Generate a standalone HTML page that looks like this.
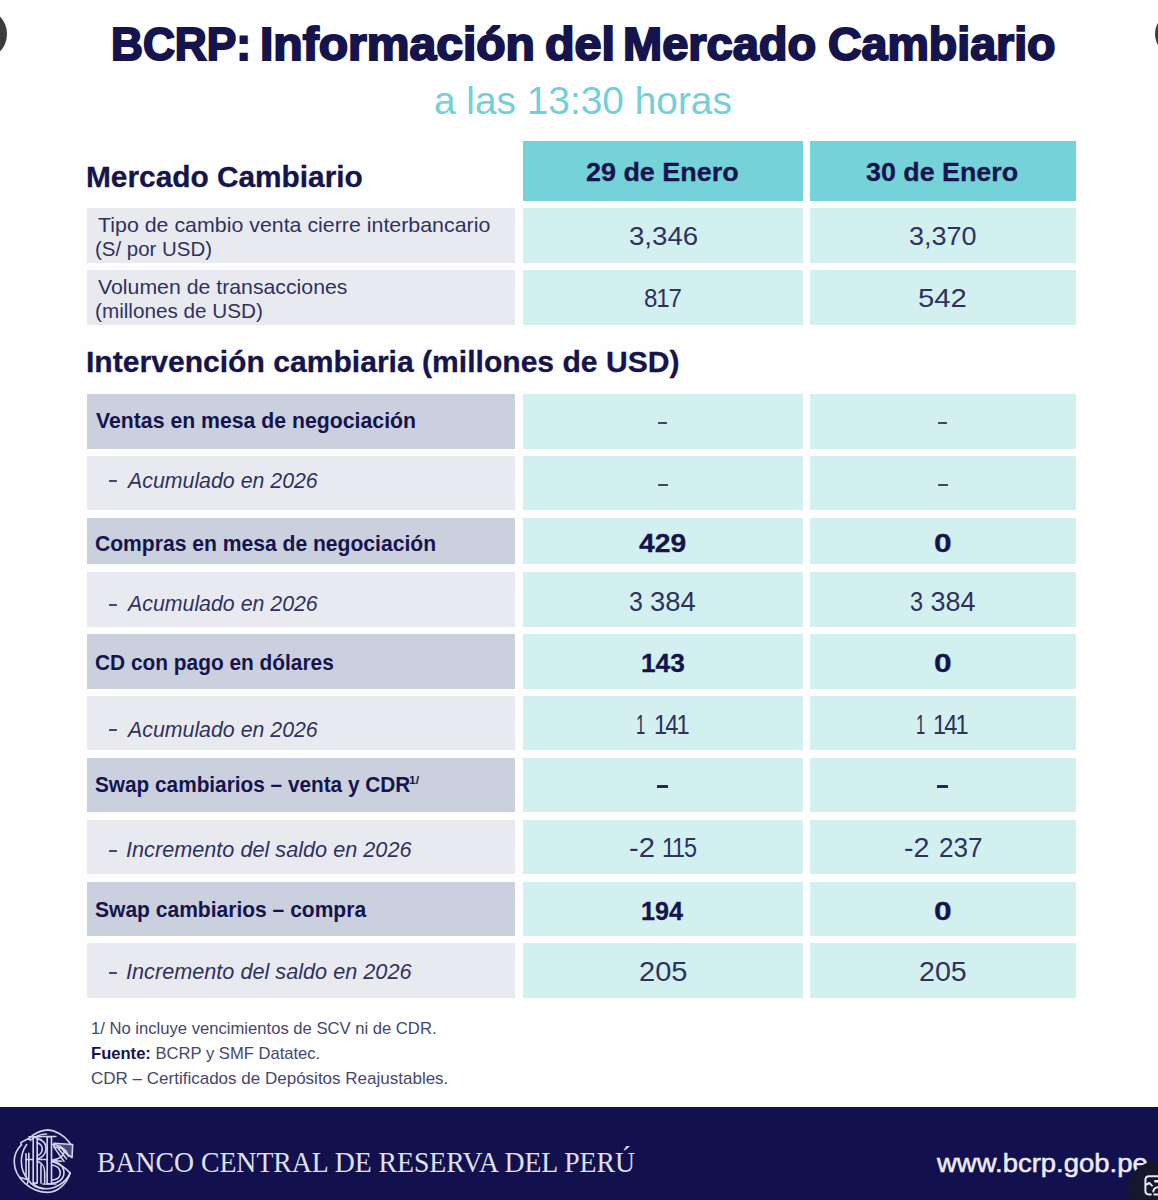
<!DOCTYPE html>
<html lang="es"><head><meta charset="utf-8"><title>BCRP: Información del Mercado Cambiario</title>
<style>html,body{margin:0;padding:0}body{width:1158px;height:1200px;position:relative;overflow:hidden;background:#fefefe;font-family:'Liberation Sans', sans-serif}
#w{position:absolute;left:0;top:0;width:1158px;height:1200px}
.b{position:absolute}.t{position:absolute;white-space:pre;line-height:1;transform-origin:0 0}</style></head><body><div id="w">
<div class="b" style="left:522.5px;top:141px;width:280.5px;height:60.0px;background:#74d2d8"></div>
<div class="b" style="left:810px;top:141px;width:265.5px;height:60.0px;background:#74d2d8"></div>
<div class="b" style="left:87px;top:208.4px;width:428.29999999999995px;height:54.3px;background:#e8eaf0"></div>
<div class="b" style="left:522.5px;top:208.4px;width:280.5px;height:54.3px;background:#d3f0f1"></div>
<div class="b" style="left:810px;top:208.4px;width:265.5px;height:54.3px;background:#d3f0f1"></div>
<div class="b" style="left:87px;top:270.3px;width:428.29999999999995px;height:54.3px;background:#e8eaf0"></div>
<div class="b" style="left:522.5px;top:270.3px;width:280.5px;height:54.3px;background:#d3f0f1"></div>
<div class="b" style="left:810px;top:270.3px;width:265.5px;height:54.3px;background:#d3f0f1"></div>
<div class="b" style="left:87px;top:393.7px;width:428.29999999999995px;height:54.9px;background:#cad0dd"></div>
<div class="b" style="left:522.5px;top:393.7px;width:280.5px;height:54.9px;background:#d3f0f1"></div>
<div class="b" style="left:810px;top:393.7px;width:265.5px;height:54.9px;background:#d3f0f1"></div>
<div class="b" style="left:87px;top:456.2px;width:428.29999999999995px;height:54.2px;background:#e8eaf0"></div>
<div class="b" style="left:522.5px;top:456.2px;width:280.5px;height:54.2px;background:#d3f0f1"></div>
<div class="b" style="left:810px;top:456.2px;width:265.5px;height:54.2px;background:#d3f0f1"></div>
<div class="b" style="left:87px;top:517.7px;width:428.29999999999995px;height:46.8px;background:#cad0dd"></div>
<div class="b" style="left:522.5px;top:517.7px;width:280.5px;height:46.8px;background:#d3f0f1"></div>
<div class="b" style="left:810px;top:517.7px;width:265.5px;height:46.8px;background:#d3f0f1"></div>
<div class="b" style="left:87px;top:572.4px;width:428.29999999999995px;height:54.2px;background:#e8eaf0"></div>
<div class="b" style="left:522.5px;top:572.4px;width:280.5px;height:54.2px;background:#d3f0f1"></div>
<div class="b" style="left:810px;top:572.4px;width:265.5px;height:54.2px;background:#d3f0f1"></div>
<div class="b" style="left:87px;top:634.0px;width:428.29999999999995px;height:54.6px;background:#cad0dd"></div>
<div class="b" style="left:522.5px;top:634.0px;width:280.5px;height:54.6px;background:#d3f0f1"></div>
<div class="b" style="left:810px;top:634.0px;width:265.5px;height:54.6px;background:#d3f0f1"></div>
<div class="b" style="left:87px;top:696.2px;width:428.29999999999995px;height:54.0px;background:#e8eaf0"></div>
<div class="b" style="left:522.5px;top:696.2px;width:280.5px;height:54.0px;background:#d3f0f1"></div>
<div class="b" style="left:810px;top:696.2px;width:265.5px;height:54.0px;background:#d3f0f1"></div>
<div class="b" style="left:87px;top:758.0px;width:428.29999999999995px;height:54.0px;background:#cad0dd"></div>
<div class="b" style="left:522.5px;top:758.0px;width:280.5px;height:54.0px;background:#d3f0f1"></div>
<div class="b" style="left:810px;top:758.0px;width:265.5px;height:54.0px;background:#d3f0f1"></div>
<div class="b" style="left:87px;top:819.5px;width:428.29999999999995px;height:54.5px;background:#e8eaf0"></div>
<div class="b" style="left:522.5px;top:819.5px;width:280.5px;height:54.5px;background:#d3f0f1"></div>
<div class="b" style="left:810px;top:819.5px;width:265.5px;height:54.5px;background:#d3f0f1"></div>
<div class="b" style="left:87px;top:881.8px;width:428.29999999999995px;height:54.2px;background:#cad0dd"></div>
<div class="b" style="left:522.5px;top:881.8px;width:280.5px;height:54.2px;background:#d3f0f1"></div>
<div class="b" style="left:810px;top:881.8px;width:265.5px;height:54.2px;background:#d3f0f1"></div>
<div class="b" style="left:87px;top:943.4px;width:428.29999999999995px;height:54.4px;background:#e8eaf0"></div>
<div class="b" style="left:522.5px;top:943.4px;width:280.5px;height:54.4px;background:#d3f0f1"></div>
<div class="b" style="left:810px;top:943.4px;width:265.5px;height:54.4px;background:#d3f0f1"></div>
<div class="b" style="left:-12px;top:1106.5px;width:1182px;height:105.5px;background:#12114d"></div>
<div class="b" style="left:658.1px;top:421.5px;width:9.4px;height:2.0px;background:#3f4468;border-radius:.5px"></div>
<div class="b" style="left:658.4px;top:484.0px;width:9.4px;height:2.0px;background:#3f4468;border-radius:.5px"></div>
<div class="b" style="left:657.4px;top:785.0px;width:10.8px;height:3px;background:#23255a;border-radius:.5px"></div>
<div class="b" style="left:938.1px;top:421.5px;width:9.4px;height:2.0px;background:#3f4468;border-radius:.5px"></div>
<div class="b" style="left:938.4px;top:484.0px;width:9.4px;height:2.0px;background:#3f4468;border-radius:.5px"></div>
<div class="b" style="left:937.4px;top:785.0px;width:10.8px;height:3px;background:#23255a;border-radius:.5px"></div>
<div class="b" style="left:109.3px;top:480.0px;width:8.2px;height:2px;background:#44466f;border-radius:.5px"></div>
<div class="b" style="left:109.3px;top:604.0px;width:8.2px;height:2px;background:#44466f;border-radius:.5px"></div>
<div class="b" style="left:109.3px;top:729.0px;width:8.2px;height:2px;background:#44466f;border-radius:.5px"></div>
<div class="b" style="left:109.3px;top:850.0px;width:8.2px;height:2px;background:#44466f;border-radius:.5px"></div>
<div class="b" style="left:109.3px;top:972.0px;width:8.2px;height:2px;background:#44466f;border-radius:.5px"></div>
<div class="t" style="left:111.06px;top:22.20px;transform:scaleX(0.9712);font-family:'Liberation Sans', sans-serif;font-size:45.53px;font-weight:700;color:#15144d;-webkit-text-stroke:2.0px #15144d;">BCRP:</div>
<div class="t" style="left:260.39px;top:22.20px;transform:scaleX(1.0556);font-family:'Liberation Sans', sans-serif;font-size:45.53px;font-weight:700;color:#15144d;-webkit-text-stroke:2.0px #15144d;">Información</div>
<div class="t" style="left:544.73px;top:22.20px;transform:scaleX(1.0651);font-family:'Liberation Sans', sans-serif;font-size:45.53px;font-weight:700;color:#15144d;-webkit-text-stroke:2.0px #15144d;">del</div>
<div class="t" style="left:623.43px;top:22.20px;transform:scaleX(1.0326);font-family:'Liberation Sans', sans-serif;font-size:45.53px;font-weight:700;color:#15144d;-webkit-text-stroke:2.0px #15144d;">Mercado</div>
<div class="t" style="left:827.78px;top:22.20px;transform:scaleX(1.0222);font-family:'Liberation Sans', sans-serif;font-size:45.53px;font-weight:700;color:#15144d;-webkit-text-stroke:2.0px #15144d;">Cambiario</div>
<div class="t" style="left:434.48px;top:81.60px;transform:scaleX(1.0107);font-family:'Liberation Sans', sans-serif;font-size:38.41px;font-weight:400;color:#72d0d6;">a las 13:30 horas</div>
<div class="t" style="left:85.71px;top:161.50px;transform:scaleX(0.9938);font-family:'Liberation Sans', sans-serif;font-size:30.03px;font-weight:700;color:#15144d;-webkit-text-stroke:0.3px #15144d;">Mercado Cambiario</div>
<div class="t" style="left:585.99px;top:159.00px;transform:scaleX(1.0148);font-family:'Liberation Sans', sans-serif;font-size:26.54px;font-weight:700;color:#15144d;-webkit-text-stroke:0.3px #15144d;">29 de Enero</div>
<div class="t" style="left:866.40px;top:159.00px;transform:scaleX(1.0107);font-family:'Liberation Sans', sans-serif;font-size:26.54px;font-weight:700;color:#15144d;-webkit-text-stroke:0.3px #15144d;">30 de Enero</div>
<div class="t" style="left:98.20px;top:214.50px;transform:scaleX(1.0550);font-family:'Liberation Sans', sans-serif;font-size:20.25px;font-weight:400;color:#30325e;">Tipo de cambio venta cierre interbancario</div>
<div class="t" style="left:94.99px;top:238.50px;transform:scaleX(1.0096);font-family:'Liberation Sans', sans-serif;font-size:20.25px;font-weight:400;color:#30325e;">(S/ por USD)</div>
<div class="t" style="left:98.20px;top:276.90px;transform:scaleX(1.0502);font-family:'Liberation Sans', sans-serif;font-size:20.25px;font-weight:400;color:#30325e;">Volumen de transacciones</div>
<div class="t" style="left:94.98px;top:300.60px;transform:scaleX(1.0222);font-family:'Liberation Sans', sans-serif;font-size:20.25px;font-weight:400;color:#30325e;">(millones de USD)</div>
<div class="t" style="left:628.94px;top:223.00px;transform:scaleX(1.0587);font-family:'Liberation Sans', sans-serif;font-size:26.12px;font-weight:400;color:#30325e;">3,346</div>
<div class="t" style="left:908.77px;top:223.00px;transform:scaleX(1.0349);font-family:'Liberation Sans', sans-serif;font-size:26.12px;font-weight:400;color:#30325e;">3,370</div>
<div class="t" style="left:644.08px;top:284.50px;transform:scaleX(0.9231);font-family:'Liberation Sans', sans-serif;font-size:26.12px;font-weight:400;color:#30325e;letter-spacing:-1.2px;">817</div>
<div class="t" style="left:917.88px;top:284.50px;transform:scaleX(1.1220);font-family:'Liberation Sans', sans-serif;font-size:26.12px;font-weight:400;color:#30325e;">542</div>
<div class="t" style="left:86.00px;top:347.40px;transform:scaleX(1.0022);font-family:'Liberation Sans', sans-serif;font-size:30.03px;font-weight:700;color:#15144d;-webkit-text-stroke:0.3px #15144d;">Intervención cambiaria (millones de USD)</div>
<div class="t" style="left:96.20px;top:410.00px;transform:scaleX(1.0013);font-family:'Liberation Sans', sans-serif;font-size:21.23px;font-weight:700;color:#15144d;">Ventas en mesa de negociación</div>
<div class="t" style="left:94.51px;top:533.30px;transform:scaleX(0.9938);font-family:'Liberation Sans', sans-serif;font-size:21.23px;font-weight:700;color:#15144d;">Compras en mesa de negociación</div>
<div class="t" style="left:94.52px;top:651.50px;transform:scaleX(0.9830);font-family:'Liberation Sans', sans-serif;font-size:21.23px;font-weight:700;color:#15144d;">CD con pago en dólares</div>
<div class="t" style="left:94.52px;top:774.20px;transform:scaleX(0.9794);font-family:'Liberation Sans', sans-serif;font-size:21.23px;font-weight:700;color:#15144d;">Swap cambiarios – venta y CDR</div>
<div class="t" style="left:409.15px;top:776.00px;transform:scaleX(1.1500);font-family:'Liberation Sans', sans-serif;font-size:10.47px;font-weight:700;color:#15144d;">1/</div>
<div class="t" style="left:94.51px;top:898.60px;transform:scaleX(0.9908);font-family:'Liberation Sans', sans-serif;font-size:21.23px;font-weight:700;color:#15144d;">Swap cambiarios – compra</div>
<div class="t" style="left:127.59px;top:470.20px;transform:scaleX(0.9856);font-family:'Liberation Sans', sans-serif;font-size:21.65px;font-weight:400;color:#30325e;font-style:italic;">Acumulado en 2026</div>
<div class="t" style="left:127.59px;top:593.30px;transform:scaleX(0.9856);font-family:'Liberation Sans', sans-serif;font-size:21.65px;font-weight:400;color:#30325e;font-style:italic;">Acumulado en 2026</div>
<div class="t" style="left:127.59px;top:718.90px;transform:scaleX(0.9856);font-family:'Liberation Sans', sans-serif;font-size:21.65px;font-weight:400;color:#30325e;font-style:italic;">Acumulado en 2026</div>
<div class="t" style="left:125.60px;top:839.20px;transform:scaleX(1.0014);font-family:'Liberation Sans', sans-serif;font-size:21.65px;font-weight:400;color:#30325e;font-style:italic;">Incremento del saldo en 2026</div>
<div class="t" style="left:125.60px;top:961.00px;transform:scaleX(1.0014);font-family:'Liberation Sans', sans-serif;font-size:21.65px;font-weight:400;color:#30325e;font-style:italic;">Incremento del saldo en 2026</div>
<div class="t" style="left:639.30px;top:529.80px;transform:scaleX(1.0659);font-family:'Liberation Sans', sans-serif;font-size:26.54px;font-weight:700;color:#15144d;-webkit-text-stroke:0.3px #15144d;">429</div>
<div class="t" style="left:933.81px;top:529.80px;transform:scaleX(1.1923);font-family:'Liberation Sans', sans-serif;font-size:26.54px;font-weight:700;color:#15144d;-webkit-text-stroke:0.3px #15144d;">0</div>
<div class="t" style="left:629.48px;top:588.60px;transform:scaleX(0.9231);font-family:'Liberation Sans', sans-serif;font-size:26.96px;font-weight:400;color:#30325e;">3</div>
<div class="t" style="left:650.48px;top:588.60px;transform:scaleX(1.0163);font-family:'Liberation Sans', sans-serif;font-size:26.96px;font-weight:400;color:#30325e;">384</div>
<div class="t" style="left:909.63px;top:588.60px;transform:scaleX(0.8692);font-family:'Liberation Sans', sans-serif;font-size:26.96px;font-weight:400;color:#30325e;">3</div>
<div class="t" style="left:930.50px;top:588.60px;transform:scaleX(1.0000);font-family:'Liberation Sans', sans-serif;font-size:26.96px;font-weight:400;color:#30325e;">384</div>
<div class="t" style="left:640.51px;top:649.50px;transform:scaleX(0.9884);font-family:'Liberation Sans', sans-serif;font-size:26.54px;font-weight:700;color:#15144d;-webkit-text-stroke:0.3px #15144d;">143</div>
<div class="t" style="left:933.81px;top:649.50px;transform:scaleX(1.1923);font-family:'Liberation Sans', sans-serif;font-size:26.54px;font-weight:700;color:#15144d;-webkit-text-stroke:0.3px #15144d;">0</div>
<div class="t" style="left:636.37px;top:712.20px;transform:scaleX(0.6167);font-family:'Liberation Sans', sans-serif;font-size:26.96px;font-weight:400;color:#30325e;">1</div>
<div class="t" style="left:653.74px;top:712.20px;transform:scaleX(0.8784);font-family:'Liberation Sans', sans-serif;font-size:26.96px;font-weight:400;color:#30325e;letter-spacing:-2.2px;">141</div>
<div class="t" style="left:915.67px;top:712.20px;transform:scaleX(0.6167);font-family:'Liberation Sans', sans-serif;font-size:26.96px;font-weight:400;color:#30325e;">1</div>
<div class="t" style="left:933.04px;top:712.20px;transform:scaleX(0.8784);font-family:'Liberation Sans', sans-serif;font-size:26.96px;font-weight:400;color:#30325e;letter-spacing:-2.2px;">141</div>
<div class="t" style="left:628.62px;top:835.40px;transform:scaleX(1.0818);font-family:'Liberation Sans', sans-serif;font-size:26.96px;font-weight:400;color:#30325e;">-2</div>
<div class="t" style="left:662.46px;top:835.40px;transform:scaleX(0.8703);font-family:'Liberation Sans', sans-serif;font-size:26.96px;font-weight:400;color:#30325e;letter-spacing:-1.4px;">115</div>
<div class="t" style="left:903.94px;top:835.40px;transform:scaleX(1.0636);font-family:'Liberation Sans', sans-serif;font-size:26.96px;font-weight:400;color:#30325e;">-2</div>
<div class="t" style="left:938.53px;top:835.40px;transform:scaleX(0.9698);font-family:'Liberation Sans', sans-serif;font-size:26.96px;font-weight:400;color:#30325e;">237</div>
<div class="t" style="left:640.95px;top:898.40px;transform:scaleX(0.9477);font-family:'Liberation Sans', sans-serif;font-size:26.54px;font-weight:700;color:#15144d;-webkit-text-stroke:0.3px #15144d;">194</div>
<div class="t" style="left:933.81px;top:898.40px;transform:scaleX(1.1923);font-family:'Liberation Sans', sans-serif;font-size:26.54px;font-weight:700;color:#15144d;-webkit-text-stroke:0.3px #15144d;">0</div>
<div class="t" style="left:638.52px;top:959.20px;transform:scaleX(1.0791);font-family:'Liberation Sans', sans-serif;font-size:26.96px;font-weight:400;color:#30325e;">205</div>
<div class="t" style="left:918.54px;top:959.20px;transform:scaleX(1.0628);font-family:'Liberation Sans', sans-serif;font-size:26.96px;font-weight:400;color:#30325e;">205</div>
<div class="t" style="left:91.43px;top:1020.00px;transform:scaleX(0.9679);font-family:'Liberation Sans', sans-serif;font-size:17.18px;font-weight:400;color:#45476f;">1/ No incluye vencimientos de SCV ni de CDR.</div>
<div class="t" style="left:91.43px;top:1045.00px;transform:scaleX(0.9660);font-family:'Liberation Sans', sans-serif;font-size:17.18px;font-weight:400;color:#45476f;"><b style="color:#15144d">Fuente:</b> BCRP y SMF Datatec.</div>
<div class="t" style="left:91.41px;top:1069.80px;transform:scaleX(0.9905);font-family:'Liberation Sans', sans-serif;font-size:17.18px;font-weight:400;color:#45476f;">CDR – Certificados de Depósitos Reajustables.</div>
<div class="t" style="left:96.83px;top:1148.70px;transform:scaleX(0.9709);font-family:'Liberation Serif', serif;font-size:28.55px;font-weight:400;color:#e0e0ee;">BANCO CENTRAL DE RESERVA DEL PERÚ</div>
<div class="t" style="left:936.80px;top:1151.40px;transform:scaleX(1.0886);font-family:'Liberation Sans', sans-serif;font-size:25.24px;font-weight:400;color:#ececf6;-webkit-text-stroke:0.5px #ececf6;">www.bcrp.gob.pe</div>
<div class="b" style="left:-42.9px;top:8.9px;width:49.8px;height:49.8px;border-radius:50%;background:#3c3c3c"></div>
<div class="b" style="left:1155px;top:11.9px;width:44px;height:44px;border-radius:50%;background:#3c3c3c"></div>
<svg class="b" style="left:8px;top:1124px" width="72" height="74" viewBox="0 0 1158 1190" fill="none" stroke="#d2d4ee" stroke-width="26" stroke-linecap="round" stroke-linejoin="round">
<path d="M1000 790 C950 960 800 1100 640 1100 C380 1100 100 880 100 600 C100 480 150 400 215 335"/>
<path d="M215 335 L205 300 L345 225 L360 265"/>
<path d="M345 225 C430 150 540 100 640 95 C760 100 900 180 975 280 L1010 330"/>
<path d="M300 330 C250 400 215 500 215 600 C215 720 260 830 330 900"/>
<path d="M620 160 C520 165 430 200 380 250"/>
<path d="M200 860 L330 900 L310 960"/>
<path d="M290 480 L290 850 M335 470 L335 880"/>
<path d="M290 570 L630 570 M700 585 L860 600"/>
<path d="M405 215 L405 950 L470 950 L470 215 Z" fill="#14134d"/>
<path d="M340 205 L540 205"/>
<path d="M470 235 C560 250 620 320 610 410 C600 490 540 545 470 565"/>
<path d="M470 300 C520 315 555 360 550 410 C545 460 515 495 470 510"/>
<path d="M470 600 C540 620 590 690 590 780 L590 940"/>
<path d="M530 660 L530 950"/>
<path d="M700 330 C800 330 880 370 900 430 C915 500 830 570 700 585"/>
<path d="M700 600 C820 610 900 680 900 780 C900 880 820 950 700 955"/>
<path d="M700 660 C790 670 840 720 840 790 C840 860 790 900 700 905"/>
<path d="M745 380 L900 600 M790 370 L940 560 M840 365 L975 520"/>
<path d="M740 310 L1040 330 L1030 540 L960 490 C940 430 890 390 820 380 L740 370 Z" fill="#c9cbe8" fill-opacity=".3"/>
<path d="M700 600 C820 640 930 710 1000 790"/>
<path d="M630 205 L630 960 L700 960 L700 205 Z" fill="#14134d"/>
<path d="M560 200 L770 200 M560 965 L770 965"/>
<path d="M400 960 C480 1040 620 1060 740 1020 C860 980 950 890 1000 790"/>
<path d="M330 905 C380 980 470 1030 560 1040"/>
</svg>
<div class="b" style="left:1128px;top:1161px;width:58px;height:58px;border-radius:50%;background:#15172c"></div>
<svg class="b" style="left:1138px;top:1168px" width="20" height="32" viewBox="0 0 20 32" fill="none" stroke="#e9e9f2" stroke-width="2" stroke-linecap="round" stroke-linejoin="round">
<path d="M12.800 26.400 L11 26.400 C8.600 26.400 7.400 25.200 7.400 22.800 L7.400 12 C7.400 9.600 8.600 8.300 11 8.300 L21 8.300"/>
<path d="M16.300 26.400 L21 26.400"/>
<path d="M8.500 16.500 L11.300 15 L14 17.600"/>
<path d="M17.300 13.200 L21 13.200" stroke-width="2.600"/>
<path d="M15.300 23.500 C15.600 20.800 17.500 19.300 21 19.300"/>
</svg>

</div></body></html>
